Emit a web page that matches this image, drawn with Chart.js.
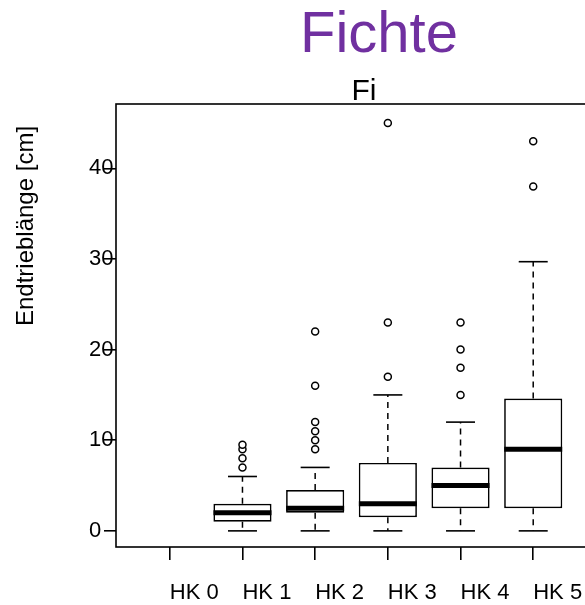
<!DOCTYPE html>
<html>
<head>
<meta charset="utf-8">
<script src="https://cdn.jsdelivr.net/npm/chart.js@4/dist/chart.umd.min.js"></script>
<style>
  html, body { margin: 0; padding: 0; overflow: hidden; background: #fff; }
  #wrap { width: 600px; height: 605px; }
</style>
</head>
<body>
<div id="wrap"><canvas id="chart" width="600" height="605"></canvas></div>
<script>
// Box plot values (cm)
const categories = ['HK 0', 'HK 1', 'HK 2', 'HK 3', 'HK 4', 'HK 5'];
const lowerWhisker = [null, 0, 0, 0, 0, 0];
const q1 = [null, 1, 2, 1.5, 2.5, 2.5];
const median = [null, 2, 2.5, 3, 5, 9];
const q3 = [null, 3, 4.5, 7.5, 7, 14.6];
const upperWhisker = [null, 6, 7, 15, 12, 29.7];
const outliers = [
    [],
    [7, 8, 9, 9.5],
    [9, 10, 11, 12, 16, 22],
    [17, 23, 45],
    [15, 18, 20, 23],
    [38, 43]
];
const yTicks = [0, 10, 20, 30, 40];

const mainTitle = 'Fichte';
const subTitle = 'Fi';
const yTitle = 'Endtrieblänge [cm]';

const FONT = '"Liberation Sans", Arial, sans-serif';

// indexes of groups that have data
const filled = categories.map((c, i) => i).filter(i => median[i] !== null);

// dashed whiskers: q3 -> upper, q1 -> lower, broken with nulls
const whiskerData = [];
filled.forEach(i => {
    whiskerData.push({ x: i, y: q3[i] }, { x: i, y: upperWhisker[i] }, { x: i, y: null });
    whiskerData.push({ x: i, y: q1[i] }, { x: i, y: lowerWhisker[i] }, { x: i, y: null });
});

const capData = [];
filled.forEach(i => {
    capData.push({ x: i, y: lowerWhisker[i] }, { x: i, y: upperWhisker[i] });
});

const outlierData = [];
outliers.forEach((list, i) => list.forEach(v => outlierData.push({ x: i, y: v })));

// frame round the plot region, like R's box()
const framePlugin = {
    id: 'frame',
    afterDatasetsDraw(chart) {
        const { ctx, chartArea } = chart;
        ctx.save();
        ctx.strokeStyle = '#000';
        ctx.lineWidth = 1.6;
        ctx.strokeRect(chartArea.left, chartArea.top, chartArea.right - chartArea.left, chartArea.bottom - chartArea.top);
        ctx.restore();
    }
};

// titles placed where they sit in the picture
const textPlugin = {
    id: 'texts',
    afterDraw(chart) {
        const ctx = chart.ctx;
        ctx.save();
        ctx.textAlign = 'center';
        ctx.textBaseline = 'alphabetic';
        ctx.fillStyle = '#7030a0';
        ctx.font = '58px ' + FONT;
        ctx.fillText(mainTitle, 379, 52);
        ctx.fillStyle = '#000';
        ctx.font = '30px ' + FONT;
        ctx.fillText(subTitle, 364, 100);
        ctx.font = '24px ' + FONT;
        ctx.translate(33, 226);
        ctx.rotate(-Math.PI / 2);
        ctx.fillText(yTitle, 0, 0);
        ctx.restore();
    }
};

const ctx = document.getElementById('chart').getContext('2d');
new Chart(ctx, {
    type: 'scatter',
    data: {
        datasets: [
            {
                type: 'line',
                data: whiskerData,
                borderColor: '#000',
                borderWidth: 1.5,
                borderDash: [6, 5],
                pointRadius: 0,
                spanGaps: false,
                fill: false,
                order: 5
            },
            {
                type: 'bar',
                data: filled.map(i => ({ x: i, y: [q1[i], q3[i]] })),
                backgroundColor: '#fff',
                borderColor: '#000',
                borderWidth: 1.7,
                borderSkipped: false,
                barPercentage: 0.8,
                categoryPercentage: 1,
                order: 4
            },
            {
                data: capData,
                pointStyle: 'line',
                radius: 14.5,
                borderColor: '#000',
                borderWidth: 1.6,
                order: 2
            },
            {
                data: filled.map(i => ({ x: i, y: median[i] })),
                pointStyle: 'line',
                radius: 29,
                borderColor: '#000',
                borderWidth: 5,
                order: 1
            },
            {
                data: outlierData,
                pointStyle: 'circle',
                radius: 3.5,
                backgroundColor: '#fff',
                borderColor: '#000',
                borderWidth: 1.5,
                order: 3
            }
        ]
    },
    options: {
        responsive: false,
        animation: false,
        devicePixelRatio: 1,
        layout: { autoPadding: false, padding: { left: 89, right: 13, top: 104, bottom: 0 } },
        plugins: {
            legend: { display: false },
            tooltip: { enabled: false },
            title: { display: false }
        },
        scales: {
            x: {
                type: 'linear',
                min: -0.74,
                max: 5.74,
                offset: false,
                afterBuildTicks: scale => { scale.ticks = categories.map((c, i) => ({ value: i })); },
                afterFit: scale => {
                    scale.height = 58;
                    scale.paddingLeft = 0;
                    scale.paddingRight = 0;
                },
                grid: {
                    offset: false,
                    drawOnChartArea: false,
                    drawTicks: true,
                    tickLength: 13,
                    color: '#000',
                    lineWidth: 1.6
                },
                border: { display: false },
                ticks: {
                    autoSkip: false,
                    maxRotation: 0,
                    align: 'start',
                    padding: 20,
                    color: '#000',
                    font: { family: FONT, size: 22 },
                    callback: v => categories[v]
                }
            },
            y: {
                type: 'linear',
                min: -1.78,
                max: 47.1,
                afterBuildTicks: scale => { scale.ticks = yTicks.map(v => ({ value: v })); },
                afterFit: scale => {
                    scale.width = 27;
                    scale.paddingTop = 0;
                    scale.paddingBottom = 0;
                },
                grid: {
                    drawOnChartArea: false,
                    drawTicks: true,
                    tickLength: 12,
                    color: '#000',
                    lineWidth: 1.6
                },
                border: { display: false },
                ticks: {
                    crossAlign: 'far',
                    padding: 0,
                    color: '#000',
                    font: { family: FONT, size: 22 }
                }
            }
        }
    },
    plugins: [framePlugin, textPlugin]
});
</script>
</body>
</html>
